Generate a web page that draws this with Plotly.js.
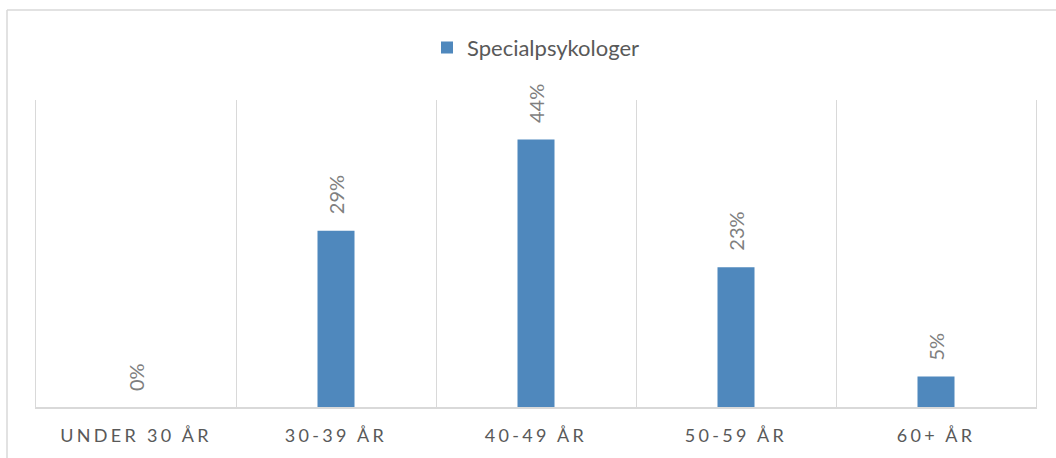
<!DOCTYPE html>
<html>
<head>
<meta charset="utf-8">
<script src="https://cdn.plot.ly/plotly-3.0.1.min.js"></script>
<style>
html, body { margin: 0; padding: 0; background: #fff; }
#chart { width: 1056px; height: 458px; }
.xtick text { letter-spacing: 3.3px; }
</style>
</head>
<body>
<div id="chart"></div>
<script>
const categories = ["UNDER 30 ÅR", "30-39 ÅR", "40-49 ÅR", "50-59 ÅR", "60+ ÅR"];
const seriesName = "Specialpsykologer";
const values = [0, 0.29, 0.44, 0.23, 0.05];
const labels = ["0%", "29%", "44%", "23%", "5%"];

const barColor = "#4f88bd";
const gridColor = "#d9d9d9";

const annotations = categories.map((c, i) => ({
  x: c, y: values[i], xref: "x", yref: "y",
  text: labels[i], showarrow: false, textangle: -90,
  xanchor: "center", yanchor: "bottom", yshift: 14,
  font: { family: "Lato, 'Open Sans', sans-serif", size: 20, color: "#7f7f7f" }
}));

const trace = {
  type: "bar", x: categories, y: values, name: seriesName,
  marker: { color: barColor }, width: 0.185, showlegend: true
};

const layout = {
  width: 1056, height: 458,
  margin: { l: 36, r: 20, t: 100, b: 51 },
  paper_bgcolor: "#fff", plot_bgcolor: "#fff",
  font: { family: "Lato, 'Open Sans', sans-serif", color: "#595959" },
  showlegend: true,
  legend: {
    orientation: "h", x: 0.5, xanchor: "center", y: 1.17, yanchor: "middle",
    font: { size: 22, color: "#595959" }, itemwidth: 30
  },
  xaxis: {
    type: "category", tickson: "boundaries", showgrid: true, gridcolor: gridColor, gridwidth: 1,
    showline: true, linecolor: gridColor, linewidth: 1.5, ticks: "", fixedrange: true,
    tickfont: { size: 18, color: "#595959" }, range: [-0.5, 4.5], ticklabelstandoff: 12
  },
  yaxis: {
    range: [0, 0.505], showgrid: false, showticklabels: false, zeroline: false, ticks: "",
    showline: true, mirror: true, linecolor: gridColor, linewidth: 1
  },
  annotations: annotations,
  shapes: [
    { type: "line", xref: "paper", yref: "paper", x0: -0.029, x1: -0.029, y0: 1.293, y1: -0.3,
      line: { color: gridColor, width: 1.5 } },
    { type: "line", xref: "paper", yref: "paper", x0: -0.029, x1: 1.05, y0: 1.293, y1: 1.293,
      line: { color: gridColor, width: 1.5 } }
  ]
};

Plotly.newPlot("chart", [trace], layout, { displayModeBar: false, staticPlot: true });
</script>
</body>
</html>
